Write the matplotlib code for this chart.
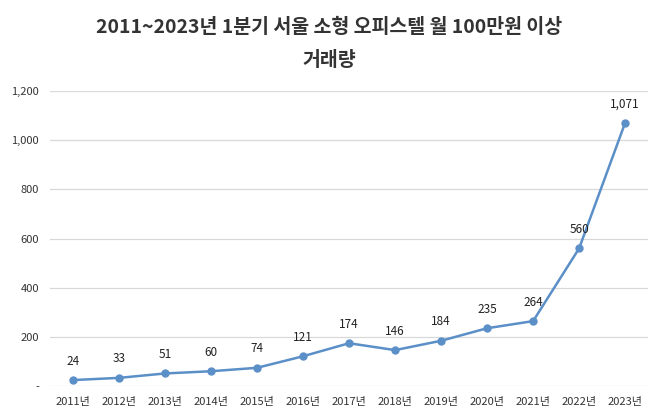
import matplotlib
matplotlib.use("Agg")
import matplotlib.pyplot as plt

plt.rcParams['font.family'] = ['Noto Sans CJK KR', 'DejaVu Sans']

# data
years = ["2011년", "2012년", "2013년", "2014년", "2015년", "2016년", "2017년",
         "2018년", "2019년", "2020년", "2021년", "2022년", "2023년"]
counts = [24, 33, 51, 60, 74, 121, 174, 146, 184, 235, 264, 560, 1071]
yticks = [0, 200, 400, 600, 800, 1000, 1200]
ytick_labels = ["-", "200", "400", "600", "800", "1,000", "1,200"]
title = "2011~2023년 1분기 서울 소형 오피스텔 월 100만원 이상\n거래량"

fig = plt.figure(figsize=(6.58, 4.20), dpi=100)
ax = fig.add_axes([0.076, 0.081, 0.909, 0.702])

x = list(range(len(years)))
ax.plot(x, counts, color="#5B8FC7", linewidth=1.8, marker="o", markersize=5,
        zorder=3)

for xi, v in zip(x, counts):
    ax.annotate(f"{v:,}", (xi, v), xytext=(0, 9), textcoords="offset points",
                ha="center", va="bottom", fontsize=8.5, color="#222222")

ax.set_xlim(-0.5, len(years) - 0.5)
ax.set_ylim(0, 1200)
ax.set_xticks(x)
ax.set_xticklabels(years, fontsize=8, color="#333333")
ax.set_yticks(yticks)
ax.set_yticklabels(ytick_labels, fontsize=8, color="#333333")
ax.tick_params(length=0, pad=8)
ax.yaxis.grid(True, color="#D9D9D9", linewidth=0.9)
ax.set_axisbelow(True)
for s in ax.spines.values():
    s.set_visible(False)

fig.text(0.5, 0.958, title, ha="center", va="top", fontsize=14,
         fontweight="bold", color="#333333", linespacing=1.95)

fig.savefig("out.png", dpi=100)
